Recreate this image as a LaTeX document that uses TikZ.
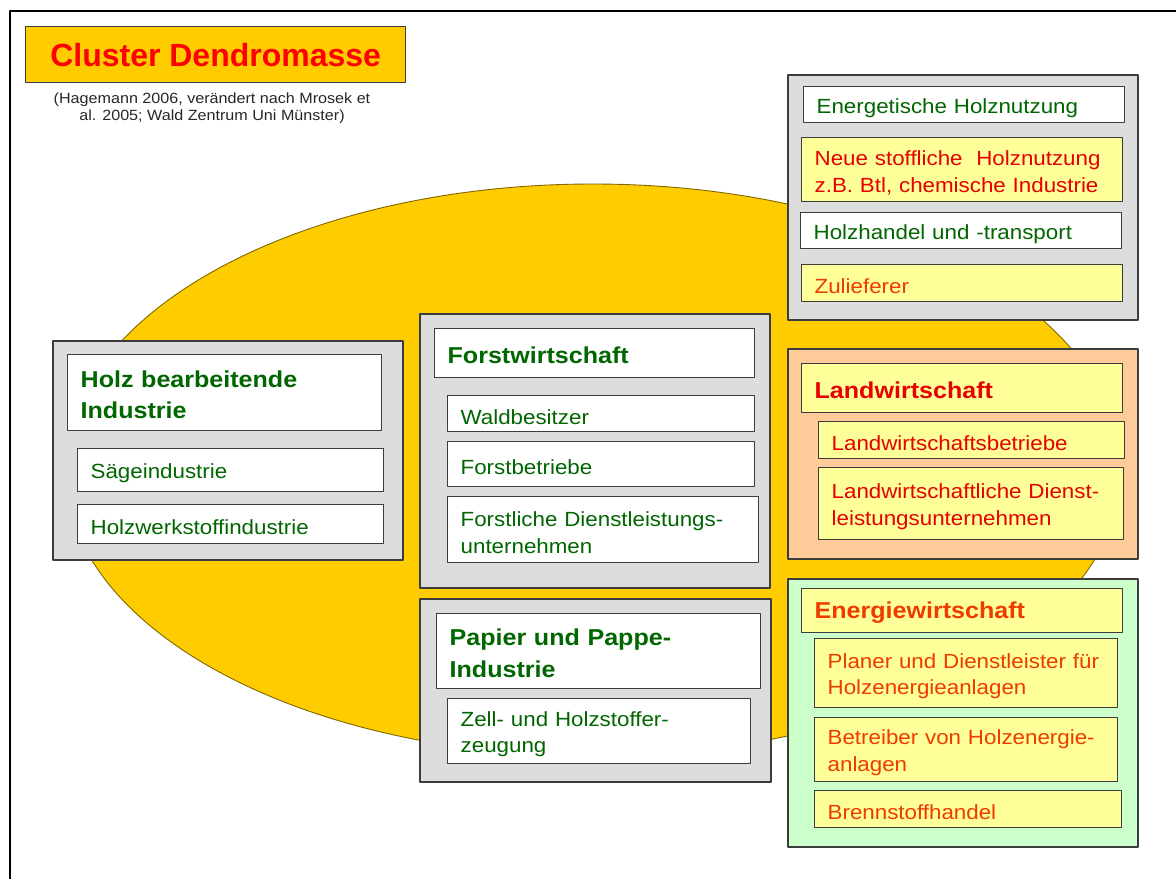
\documentclass[tikz,border=0pt]{standalone}
\usepackage{fontspec}
\setmainfont{Liberation Sans}[FakeStretch=1.09]
\newfontfamily\titlefont{Liberation Sans}
\definecolor{gelb}{HTML}{FFCC00}
\definecolor{grau}{HTML}{DDDDDD}
\definecolor{hellgelb}{HTML}{FFFF99}
\definecolor{pfirsich}{HTML}{FFCC99}
\definecolor{hellgruen}{HTML}{CCFFCC}
\definecolor{dgruen}{HTML}{006600}
\definecolor{rot}{HTML}{E60000}
\definecolor{orot}{HTML}{F03A00}
\definecolor{rahmen}{HTML}{3C3C3C}
\begin{document}
\begin{tikzpicture}[x=1pt, y=-1pt, line join=round,
    grp/.style 2 args={draw=rahmen, line width=1.6pt, anchor=north west, inner sep=0pt, minimum width=#1, minimum height=#2},
    cell/.style 2 args={draw=rahmen, line width=1.3pt, anchor=north west, inner xsep=13pt, inner ysep=0pt,
        minimum width=#1, minimum height=#2, text width={#1-26}, align=left, font=\fontsize{20.5}{26.5}\selectfont,
        execute at begin node={\rule{0pt}{21pt}}},
    head/.style={font=\fontsize{23}{31.5}\selectfont\bfseries, execute at begin node={}}]
    \useasboundingbox (0,0) rectangle (1176,879);
    \draw[line width=2pt] (10,879) -- (10,11) -- (1176,11);
    \draw[fill=gelb, draw=gelb!50!black, line width=0.9pt] (593,470) ellipse [x radius=528, y radius=286];
    \node[draw=rahmen, line width=1.3pt, fill=gelb, anchor=north west, minimum width=380, minimum height=56,
        text=red, font=\titlefont\bfseries\fontsize{32}{36}\selectfont] (titel) at (25,26) {Cluster Dendromasse};
    \node[align=center, text=black!85, font=\fontsize{14.8}{16.5}\selectfont] (quelle) at (212,108)
        {(Hagemann 2006, verändert nach Mrosek et\\al. 2005; Wald Zentrum Uni Münster)};
    \node[grp={350}{245}, fill=grau] (energetik) at (787,74) {};
    \node[cell={321}{36}, fill=white, text=dgruen] (holzenergie) at (803,86) {Energetische Holznutzung};
    \node[cell={321}{64}, fill=hellgelb, text=rot] (stofflich) at (801,137) {Neue stoffliche~ Holznutzung\\z.B. Btl, chemische Industrie};
    \node[cell={321}{36}, fill=white, text=dgruen] (handel) at (800,212) {Holzhandel und -transport};
    \node[cell={321}{37}, fill=hellgelb, text=orot] (zuliefer) at (801,264) {Zulieferer};
    \node[grp={350}{219}, fill=grau] (holzind) at (52,340) {};
    \node[cell={314}{76}, head, fill=white, text=dgruen] (holzkopf) at (67,354) {Holz bearbeitende\\Industrie};
    \node[cell={306}{43}, fill=white, text=dgruen] (saege) at (77,448) {Sägeindustrie};
    \node[cell={306}{39}, fill=white, text=dgruen] (werkstoff) at (77,504) {Holzwerkstoffindustrie};
    \node[grp={350}{274}, fill=grau] (forst) at (419,313) {};
    \node[cell={320}{49}, head, fill=white, text=dgruen] (forstkopf) at (434,328) {Forstwirtschaft};
    \node[cell={307}{36}, fill=white, text=dgruen] (wald) at (447,395) {Waldbesitzer};
    \node[cell={307}{45}, fill=white, text=dgruen] (forstbetr) at (447,441) {Forstbetriebe};
    \node[cell={311}{66}, fill=white, text=dgruen] (forstdienst) at (447,496) {Forstliche Dienstleistungs-\\unternehmen};
    \node[grp={351}{183}, fill=grau] (papier) at (419,598) {};
    \node[cell={324}{75}, head, fill=white, text=dgruen] (papierkopf) at (436,613) {Papier und Pappe-\\Industrie};
    \node[cell={303}{65}, fill=white, text=dgruen] (zell) at (447,698) {Zell- und Holzstoffer-\\zeugung};
    \node[grp={350}{210}, fill=pfirsich] (landw) at (787,348) {};
    \node[cell={321}{49}, head, fill=hellgelb, text=rot] (landwkopf) at (801,363) {Landwirtschaft};
    \node[cell={306}{37}, fill=hellgelb, text=rot] (landwbetr) at (818,421) {Landwirtschaftsbetriebe};
    \node[cell={305}{72}, fill=hellgelb, text=rot] (landwdienst) at (818,467) {Landwirtschaftliche Dienst-\\leistungsunternehmen};
    \node[grp={350}{268}, fill=hellgruen] (energiew) at (787,578) {};
    \node[cell={321}{44}, head, fill=hellgelb, text=orot] (energiekopf) at (801,588) {Energiewirtschaft};
    \node[cell={303}{69}, fill=hellgelb, text=orot] (planer) at (814,638) {Planer und Dienstleister für\\Holzenergieanlagen};
    \node[cell={303}{64}, fill=hellgelb, text=orot] (betreiber) at (814,717) {Betreiber von Holzenergie-\\anlagen};
    \node[cell={307}{37}, fill=hellgelb, text=orot] (brennstoff) at (814,790) {Brennstoffhandel};
\end{tikzpicture}
\end{document}
